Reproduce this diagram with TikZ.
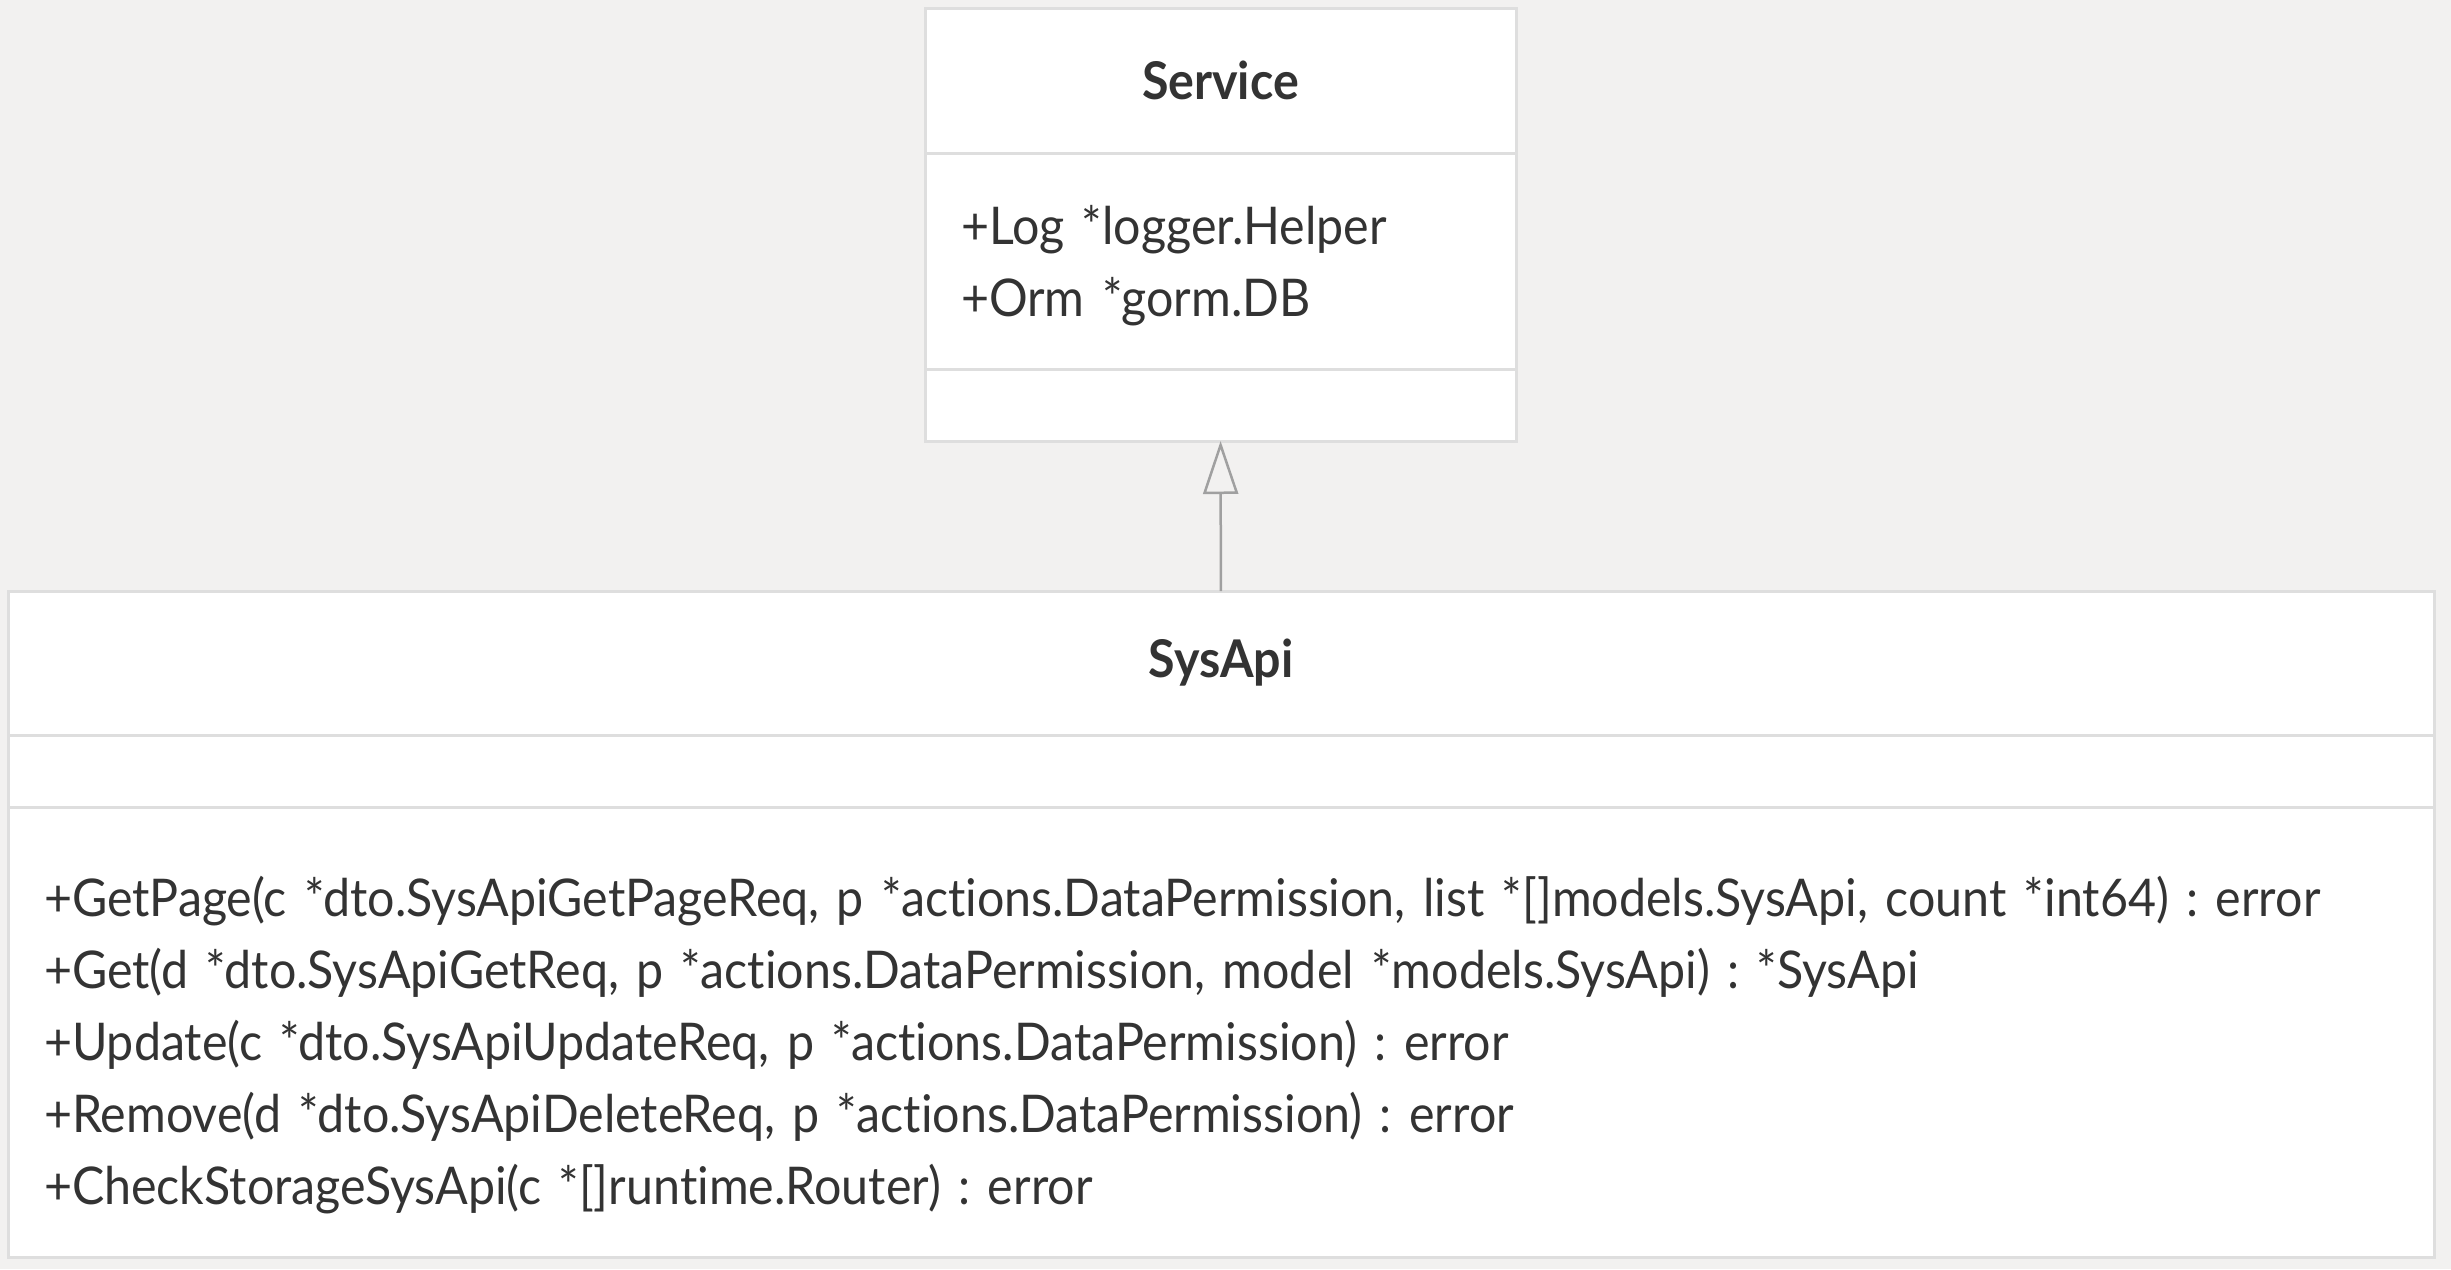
\documentclass[tikz,border=0pt]{standalone}
\usepackage{fontspec}
\setmainfont{Lato}[FakeStretch=0.93, Ligatures=NoCommon]
\usepackage{tikz}
\usetikzlibrary{positioning}
\usetikzlibrary{arrows.meta}

\definecolor{bgcol}{HTML}{F2F1F0}
\definecolor{edgecol}{HTML}{DEDEDE}
\definecolor{txtcol}{HTML}{333333}
\definecolor{arrcol}{HTML}{A0A0A0}

\frenchspacing

\begin{document}
\begin{tikzpicture}[
    x=1pt, y=-1pt,      % one unit is one pixel of the reference, y grows down
    node distance=0pt,  % compartments are stacked without gaps
    ]
% -------------------------------------------------
\tikzset{
  cell/.style={draw=edgecol, line width=3pt, fill=white, rectangle, outer sep=0pt, inner xsep=36pt, inner ysep=0pt,
               align=left, text=txtcol, font=\fontsize{52}{72}\selectfont},
  head/.style={cell, align=center, font=\fontsize{52}{72}\selectfont\bfseries},
  line/.style={draw=arrcol, line width=2.5pt, -{Triangle[open, length=53pt, width=35pt]}}
}
% -------------------------------------------------
\fill[bgcol] (0,0) rectangle (2451,1269);
\useasboundingbox (0,0) rectangle (2451,1269);

% Service class
\node[head, text width=519pt, minimum height=145pt, anchor=north] (s0) at (1220.5,8) {Service};
\node[cell, text width=519pt, minimum height=216pt, below=of s0] (s1) {\rule{0pt}{48pt}+Log *logger.Helper\\+Orm *gorm.DB};
\node[cell, text width=519pt, minimum height=72pt, below=of s1] (s2) {};

% SysApi class
\node[head, text width=2354pt, minimum height=144pt, anchor=north] (a0) at (1221,591) {SysApi};
\node[cell, text width=2354pt, minimum height=72pt, below=of a0] (a1) {};
\node[cell, text width=2354pt, minimum height=450pt, below=of a1] (a2) {%
  \rule{0pt}{67pt}+GetPage(c *dto.SysApiGetPageReq, p *actions.DataPermission, list *[]models.SysApi, count *int64) : error\\
  +Get(d *dto.SysApiGetReq, p *actions.DataPermission, model *models.SysApi) : *SysApi\\
  +Update(c *dto.SysApiUpdateReq, p *actions.DataPermission) : error\\
  +Remove(d *dto.SysApiDeleteReq, p *actions.DataPermission) : error\\
  +CheckStorageSysApi(c *[]runtime.Router) : error};

\path [line] (a0) -- (s2);

\end{tikzpicture}
\end{document}
